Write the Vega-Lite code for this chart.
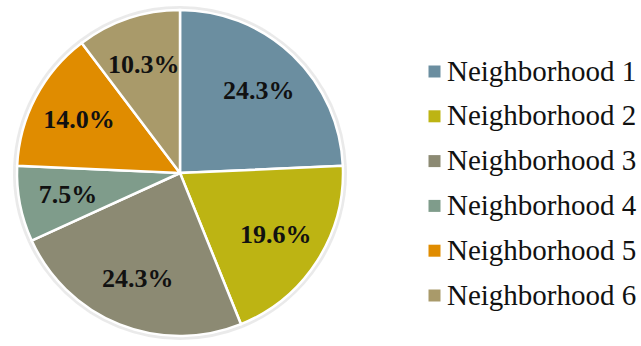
{
  "$schema": "https://vega.github.io/schema/vega-lite/v6.json",
  "width": 360,
  "height": 346,
  "padding": 0,
  "background": "white",
  "config": {"view": {"stroke": null}},
  "data": {"values": [
    {"neighborhood": "Neighborhood 1", "share": 0.243},
    {"neighborhood": "Neighborhood 2", "share": 0.196},
    {"neighborhood": "Neighborhood 3", "share": 0.243},
    {"neighborhood": "Neighborhood 4", "share": 0.075},
    {"neighborhood": "Neighborhood 5", "share": 0.140},
    {"neighborhood": "Neighborhood 6", "share": 0.103}
  ]},
  "encoding": {
    "theta": {"field": "share", "type": "quantitative", "stack": true},
    "order": {"field": "neighborhood", "type": "nominal"},
    "color": {
      "field": "neighborhood", "type": "nominal",
      "scale": {"range": ["#6b8ea0", "#bdb413", "#8c8a73", "#7f9c8b", "#e08c00", "#a99a6a"]},
      "legend": {
        "title": null, "orient": "none", "legendX": 420, "legendY": 57,
        "padding": 0, "symbolType": "square", "symbolSize": 144,
        "symbolStrokeWidth": 0, "labelFont": "Liberation Serif", "labelFontSize": 29,
        "labelColor": "#111111", "labelOffset": -2, "rowPadding": 14.8, "labelLimit": 300
      }
    }
  },
  "layer": [
    {"mark": {"type": "arc", "outerRadius": 167, "fill": "#dcdcdc", "opacity": 0.6}, "encoding": {"color": {"value": "#dcdcdc"}}},
    {"mark": {"type": "arc", "outerRadius": 163, "stroke": "white", "strokeWidth": 2.5}},
    {"mark": {"type": "text", "radius": 114, "font": "Liberation Serif", "fontSize": 26, "fontWeight": "bold", "color": "#111111"},
     "encoding": {"text": {"field": "share", "type": "quantitative", "format": ".1%"}, "color": {"value": "#111111"}}}
  ]
}
